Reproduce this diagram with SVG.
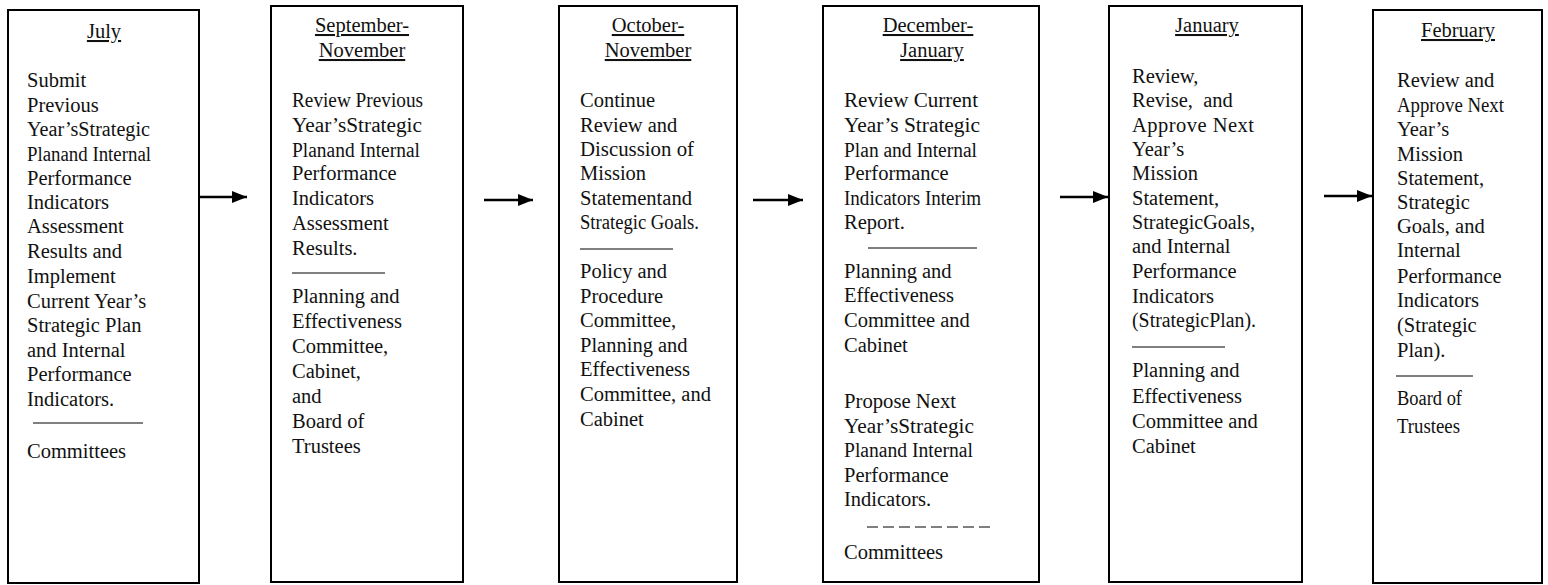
<svg xmlns="http://www.w3.org/2000/svg" width="1548" height="585" viewBox="0 0 1548 585">
<style>
.box{fill:#fff;stroke:#000;stroke-width:2}
.t{font-family:"Liberation Serif","Times New Roman",serif;font-size:20.5px;fill:#111}
.h{text-anchor:middle;text-decoration:underline}
.rule{stroke:#000;stroke-width:1}
.arr{stroke:#000;stroke-width:2.5;fill:none;marker-end:url(#ah)}
</style>
<defs>
<marker id="ah" markerUnits="userSpaceOnUse" viewBox="0 0 15 12" markerWidth="15" markerHeight="12" refX="15" refY="6" orient="auto">
<path d="M0,0 L15,6 L0,12 z" fill="#000"/>
</marker>
</defs>
<rect width="1548" height="585" fill="#fff"/>
<g id="node-july">
<rect class="box" x="8" y="10" width="191" height="573"/>
<text class="t h" x="104" y="38">July</text>
<text class="t">
<tspan x="27" y="87">Submit</tspan>
<tspan x="27" y="112">Previous</tspan>
<tspan x="27" y="136" textLength="123" lengthAdjust="spacingAndGlyphs">Year’sStrategic</tspan>
<tspan x="27" y="161" textLength="124" lengthAdjust="spacingAndGlyphs">Planand Internal</tspan>
<tspan x="27" y="185">Performance</tspan>
<tspan x="27" y="209">Indicators</tspan>
<tspan x="27" y="233">Assessment</tspan>
<tspan x="27" y="258">Results and</tspan>
<tspan x="27" y="283">Implement</tspan>
<tspan x="27" y="308">Current Year’s</tspan>
<tspan x="27" y="332">Strategic Plan</tspan>
<tspan x="27" y="357">and Internal</tspan>
<tspan x="27" y="381">Performance</tspan>
<tspan x="27" y="406">Indicators.</tspan>
<tspan x="27" y="458">Committees</tspan>
</text>
<line class="rule" x1="33" y1="423" x2="143" y2="423"/>
</g>
<g id="node-sep-nov">
<rect class="box" x="271" y="6" width="192" height="576"/>
<text class="t h" x="362" y="32">September-</text>
<text class="t h" x="362" y="57">November</text>
<text class="t">
<tspan x="292" y="107" textLength="131" lengthAdjust="spacingAndGlyphs">Review Previous</tspan>
<tspan x="292" y="132" textLength="130" lengthAdjust="spacingAndGlyphs">Year’sStrategic</tspan>
<tspan x="292" y="157" textLength="128" lengthAdjust="spacingAndGlyphs">Planand Internal</tspan>
<tspan x="292" y="180">Performance</tspan>
<tspan x="292" y="205">Indicators</tspan>
<tspan x="292" y="230">Assessment</tspan>
<tspan x="292" y="255">Results.</tspan>
<tspan x="292" y="303">Planning and</tspan>
<tspan x="292" y="328">Effectiveness</tspan>
<tspan x="292" y="353">Committee,</tspan>
<tspan x="292" y="378">Cabinet,</tspan>
<tspan x="292" y="403">and</tspan>
<tspan x="292" y="428">Board of</tspan>
<tspan x="292" y="453">Trustees</tspan>
</text>
<line class="rule" x1="292" y1="273" x2="385" y2="273"/>
</g>
<g id="node-oct-nov">
<rect class="box" x="559" y="6" width="178" height="576"/>
<text class="t h" x="648" y="32">October-</text>
<text class="t h" x="648" y="57">November</text>
<text class="t">
<tspan x="580" y="107">Continue</tspan>
<tspan x="580" y="132">Review and</tspan>
<tspan x="580" y="156" textLength="114" lengthAdjust="spacingAndGlyphs">Discussion of</tspan>
<tspan x="580" y="180">Mission</tspan>
<tspan x="580" y="205" textLength="112" lengthAdjust="spacingAndGlyphs">Statementand</tspan>
<tspan x="580" y="229" textLength="119" lengthAdjust="spacingAndGlyphs">Strategic Goals.</tspan>
<tspan x="580" y="278">Policy and</tspan>
<tspan x="580" y="303">Procedure</tspan>
<tspan x="580" y="327">Committee,</tspan>
<tspan x="580" y="352">Planning and</tspan>
<tspan x="580" y="376">Effectiveness</tspan>
<tspan x="580" y="401">Committee, and</tspan>
<tspan x="580" y="426">Cabinet</tspan>
</text>
<line class="rule" x1="580" y1="249" x2="673" y2="249"/>
</g>
<g id="node-dec-jan">
<rect class="box" x="823" y="6" width="216" height="576"/>
<text class="t h" x="928" y="32">December-</text>
<text class="t h" x="932" y="57">January</text>
<text class="t">
<tspan x="844" y="107" textLength="134" lengthAdjust="spacingAndGlyphs">Review Current</tspan>
<tspan x="844" y="132" textLength="136" lengthAdjust="spacingAndGlyphs">Year’s Strategic</tspan>
<tspan x="844" y="157" textLength="133" lengthAdjust="spacingAndGlyphs">Plan and Internal</tspan>
<tspan x="844" y="180">Performance</tspan>
<tspan x="844" y="205" textLength="137" lengthAdjust="spacingAndGlyphs">Indicators Interim</tspan>
<tspan x="844" y="229">Report.</tspan>
<tspan x="844" y="278">Planning and</tspan>
<tspan x="844" y="302">Effectiveness</tspan>
<tspan x="844" y="327">Committee and</tspan>
<tspan x="844" y="352">Cabinet</tspan>
<tspan x="844" y="408" textLength="112" lengthAdjust="spacingAndGlyphs">Propose Next</tspan>
<tspan x="844" y="433" textLength="130" lengthAdjust="spacingAndGlyphs">Year’sStrategic</tspan>
<tspan x="844" y="457" textLength="129" lengthAdjust="spacingAndGlyphs">Planand Internal</tspan>
<tspan x="844" y="482">Performance</tspan>
<tspan x="844" y="506">Indicators.</tspan>
<tspan x="844" y="559">Committees</tspan>
</text>
<line class="rule" x1="868" y1="248" x2="977" y2="248"/>
<line class="rule" x1="867" y1="527" x2="992" y2="527" stroke-width="1.5" stroke-dasharray="11 5"/>
</g>
<g id="node-january">
<rect class="box" x="1109" y="6" width="193" height="576"/>
<text class="t h" x="1207" y="32">January</text>
<text class="t">
<tspan x="1132" y="83">Review,</tspan>
<tspan x="1132" y="107" xml:space="preserve">Revise,  and</tspan>
<tspan x="1132" y="132" textLength="122" lengthAdjust="spacing">Approve Next</tspan>
<tspan x="1132" y="156">Year’s</tspan>
<tspan x="1132" y="180">Mission</tspan>
<tspan x="1132" y="205">Statement,</tspan>
<tspan x="1132" y="229" textLength="123" lengthAdjust="spacingAndGlyphs">StrategicGoals,</tspan>
<tspan x="1132" y="253">and Internal</tspan>
<tspan x="1132" y="278">Performance</tspan>
<tspan x="1132" y="303">Indicators</tspan>
<tspan x="1132" y="327" textLength="124" lengthAdjust="spacingAndGlyphs">(StrategicPlan).</tspan>
<tspan x="1132" y="377">Planning and</tspan>
<tspan x="1132" y="403">Effectiveness</tspan>
<tspan x="1132" y="428">Committee and</tspan>
<tspan x="1132" y="453">Cabinet</tspan>
</text>
<line class="rule" x1="1132" y1="347" x2="1225" y2="347"/>
</g>
<g id="node-february">
<rect class="box" x="1373" y="10" width="169" height="573"/>
<text class="t h" x="1458" y="37">February</text>
<text class="t">
<tspan x="1397" y="87">Review and</tspan>
<tspan x="1397" y="112" textLength="107" lengthAdjust="spacingAndGlyphs">Approve Next</tspan>
<tspan x="1397" y="136">Year’s</tspan>
<tspan x="1397" y="161">Mission</tspan>
<tspan x="1397" y="185">Statement,</tspan>
<tspan x="1397" y="209">Strategic</tspan>
<tspan x="1397" y="233">Goals, and</tspan>
<tspan x="1397" y="257">Internal</tspan>
<tspan x="1397" y="283">Performance</tspan>
<tspan x="1397" y="307">Indicators</tspan>
<tspan x="1397" y="332">(Strategic</tspan>
<tspan x="1397" y="357">Plan).</tspan>
<tspan x="1397" y="405" textLength="65" lengthAdjust="spacingAndGlyphs">Board of</tspan>
<tspan x="1397" y="433" textLength="63" lengthAdjust="spacingAndGlyphs">Trustees</tspan>
</text>
<line class="rule" x1="1396" y1="376" x2="1473" y2="376"/>
</g>
<g id="connectors">
<line class="arr" x1="199" y1="197" x2="247" y2="197"/>
<line class="arr" x1="484" y1="200" x2="533" y2="200"/>
<line class="arr" x1="753" y1="200" x2="803" y2="200"/>
<line class="arr" x1="1060" y1="197" x2="1108" y2="197"/>
<line class="arr" x1="1324" y1="196" x2="1372" y2="196"/>
</g>
</svg>
